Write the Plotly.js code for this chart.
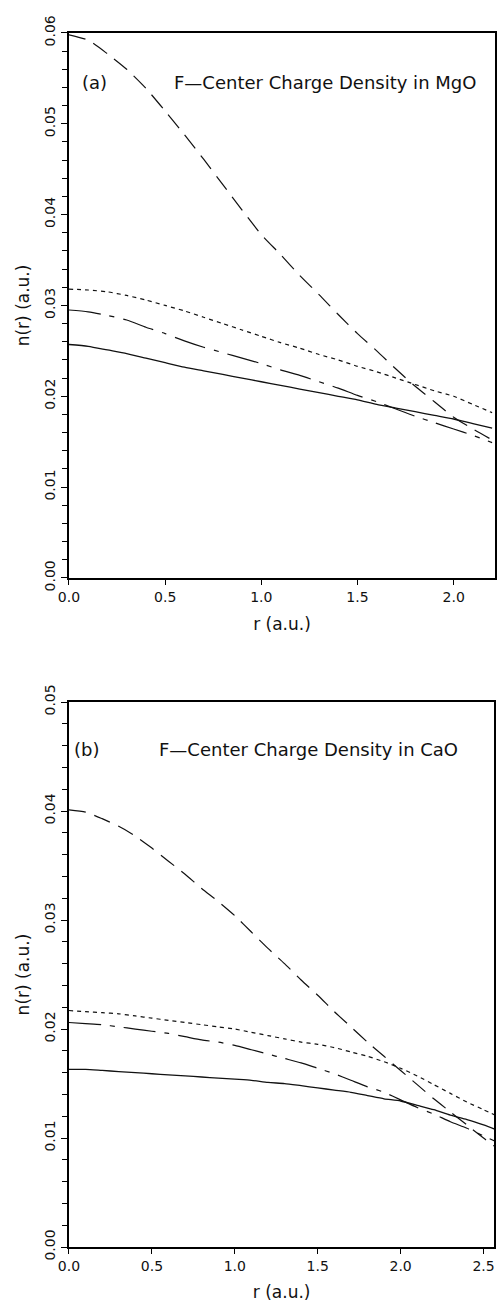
<!DOCTYPE html>
<html>
<head>
<meta charset="utf-8">
<script src="https://cdn.plot.ly/plotly-3.0.1.min.js"></script>
<style>html,body{margin:0;padding:0;background:#fff;}#chart{width:497px;height:1302px;}</style>
</head>
<body>
<div id="chart"></div>
<script>
// ---- Panel (a): MgO ----
var rMgO = [0,0.1,0.2,0.3,0.4,0.5,0.6,0.7,0.8,0.9,1.0,1.1,1.2,1.3,1.4,1.5,1.6,1.7,1.8,1.9,2.0,2.1,2.2];
var mgoSolid   = [0.0257,0.0255,0.0251,0.0247,0.0242,0.0237,0.0232,0.0228,0.0224,0.0220,0.0216,0.0212,0.0208,0.0204,0.0200,0.0196,0.0191,0.0187,0.0183,0.0179,0.0175,0.0170,0.0165];
var mgoDashed  = [0.0598,0.0592,0.0577,0.0560,0.0539,0.0514,0.0488,0.0461,0.0433,0.0405,0.0378,0.0356,0.0333,0.0312,0.0290,0.0269,0.0250,0.0230,0.0211,0.0194,0.0177,0.0164,0.0152];
var mgoDotted  = [0.0318,0.0317,0.0315,0.0311,0.0306,0.0300,0.0294,0.0287,0.0280,0.0273,0.0266,0.0259,0.0253,0.0246,0.0240,0.0233,0.0227,0.0220,0.0213,0.0206,0.0200,0.0191,0.0182];
var mgoDashDot = [0.0295,0.0293,0.0289,0.0284,0.0276,0.0269,0.0261,0.0254,0.0248,0.0242,0.0236,0.0229,0.0223,0.0216,0.0209,0.0201,0.0194,0.0186,0.0178,0.0171,0.0164,0.0157,0.0149];

// ---- Panel (b): CaO ----
var rCaO = [0,0.1,0.2,0.3,0.4,0.5,0.6,0.7,0.8,0.9,1.0,1.1,1.2,1.3,1.4,1.5,1.6,1.7,1.8,1.9,2.0,2.1,2.2,2.3,2.4,2.5,2.57];
var caoSolid   = [0.0163,0.0163,0.0162,0.0161,0.0160,0.0159,0.0158,0.0157,0.0156,0.0155,0.0154,0.0153,0.0151,0.0150,0.0148,0.0146,0.0144,0.0142,0.0139,0.0136,0.0134,0.0130,0.0126,0.0121,0.0117,0.0112,0.0108];
var caoDashed  = [0.0401,0.0399,0.0393,0.0386,0.0377,0.0366,0.0354,0.0342,0.0329,0.0317,0.0304,0.0289,0.0274,0.0260,0.0245,0.0231,0.0216,0.0202,0.0188,0.0175,0.0162,0.0149,0.0136,0.0124,0.0112,0.0100,0.0092];
var caoDotted  = [0.0217,0.0216,0.0215,0.0214,0.0212,0.0210,0.0208,0.0206,0.0204,0.0202,0.0200,0.0197,0.0194,0.0191,0.0188,0.0186,0.0183,0.0179,0.0175,0.0170,0.0164,0.0157,0.0149,0.0141,0.0133,0.0126,0.0121];
var caoDashDot = [0.0206,0.0205,0.0204,0.0202,0.0200,0.0198,0.0196,0.0193,0.0190,0.0188,0.0185,0.0181,0.0177,0.0173,0.0169,0.0164,0.0159,0.0153,0.0147,0.0142,0.0135,0.0128,0.0122,0.0115,0.0109,0.0102,0.0097];

var titleA = "F\u2014Center Charge Density in MgO";
var titleB = "F\u2014Center Charge Density in CaO";
var xTitle = "r (a.u.)";
var yTitle = "n(r) (a.u.)";

var FONT = "'DejaVu Sans', sans-serif";
var styles = {
  solid:   {color:'#111', width:1.3, dash:'solid'},
  dashed:  {color:'#111', width:1.2, dash:'17px,9px'},
  dotted:  {color:'#111', width:1.2, dash:'4px,4px'},
  dashdot: {color:'#111', width:1.2, dash:'32px,9px,5px,9px'}
};
function tr(x, y, st, xa, ya){
  return {x:x, y:y, type:'scatter', mode:'lines', line:Object.assign({shape:'spline', smoothing:0.6}, styles[st]), xaxis:xa, yaxis:ya, showlegend:false, hoverinfo:'skip'};
}
var data = [
  tr(rMgO, mgoSolid, 'solid', 'x', 'y'),
  tr(rMgO, mgoDashed, 'dashed', 'x', 'y'),
  tr(rMgO, mgoDotted, 'dotted', 'x', 'y'),
  tr(rMgO, mgoDashDot, 'dashdot', 'x', 'y'),
  tr(rCaO, caoSolid, 'solid', 'x2', 'y2'),
  tr(rCaO, caoDashed, 'dashed', 'x2', 'y2'),
  tr(rCaO, caoDotted, 'dotted', 'x2', 'y2'),
  tr(rCaO, caoDashDot, 'dashdot', 'x2', 'y2')
];

function xax(domain, range, anchor){
  return {domain:domain, range:range, anchor:anchor, showline:true, linecolor:'#000', linewidth:2, mirror:true,
    ticks:'outside', ticklen:5, tickwidth:1, tickcolor:'#000', dtick:0.5, tick0:0, tickformat:'.1f',
    showgrid:false, zeroline:false, tickfont:{family:FONT, size:14, color:'#111'},
    title:{text:xTitle, font:{family:FONT, size:17, color:'#111'}, standoff:14}};
}
function yax(domain, range, anchor){
  return {domain:domain, range:range, anchor:anchor, showline:true, linecolor:'#000', linewidth:2, mirror:true,
    ticks:'outside', ticklen:6, tickwidth:1, tickcolor:'#000', dtick:0.01, tick0:0, tickformat:'.2f', tickangle:-90,
    minor:{dtick:0.002, ticks:'outside', ticklen:5, tickwidth:1, tickcolor:'#000', showgrid:false},
    showgrid:false, zeroline:false, tickfont:{family:FONT, size:14, color:'#111'},
    title:{text:yTitle, font:{family:FONT, size:17, color:'#111'}, standoff:8}};
}

var layout = {
  width:497, height:1302,
  margin:{l:0, r:0, t:0, b:0},
  paper_bgcolor:'#fff', plot_bgcolor:'#fff',
  xaxis: xax([0.1388, 0.996], [0, 2.215], 'y'),
  yaxis: yax([0.5561, 0.9747], [0, 0.06], 'x'),
  xaxis2: xax([0.1388, 0.9946], [0, 2.565], 'y2'),
  yaxis2: yax([0.0422, 0.4608], [0, 0.05], 'x2'),
  annotations:[
    {xref:'x', yref:'y', x:0.057, y:0.0545, xanchor:'left', yanchor:'middle', text:'(a)', showarrow:false, font:{family:FONT, size:18, color:'#111'}},
    {xref:'x', yref:'y', x:1.33, y:0.0545, xanchor:'center', yanchor:'middle', text:titleA, showarrow:false, font:{family:FONT, size:18, color:'#111'}},
    {xref:'x2', yref:'y2', x:0.018, y:0.0456, xanchor:'left', yanchor:'middle', text:'(b)', showarrow:false, font:{family:FONT, size:18, color:'#111'}},
    {xref:'x2', yref:'y2', x:1.446, y:0.0456, xanchor:'center', yanchor:'middle', text:titleB, showarrow:false, font:{family:FONT, size:18, color:'#111'}}
  ]
};
Plotly.newPlot('chart', data, layout, {staticPlot:true, displayModeBar:false});
</script>
</body>
</html>
